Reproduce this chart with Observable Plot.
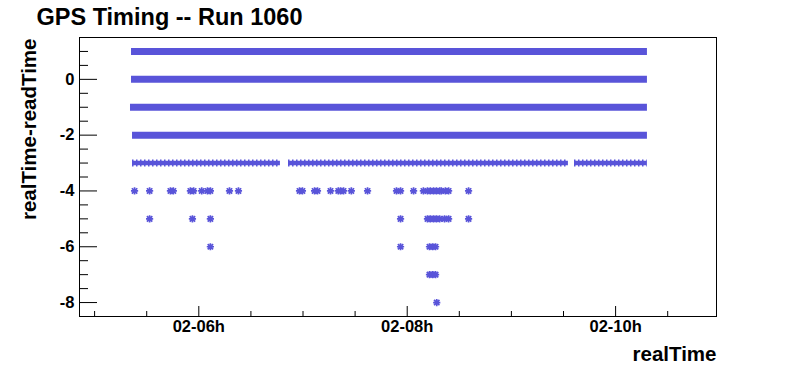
<!DOCTYPE html>
<html><head><meta charset="utf-8">
<script src="https://cdn.jsdelivr.net/npm/d3@7"></script>
<script src="https://cdn.jsdelivr.net/npm/@observablehq/plot@0.6"></script>
<style>html,body{margin:0;padding:0;background:#fff}</style>
</head><body><div id="chart"></div>
<script>
const DAY = "2000-01-02";
const COLOR = "#5954d9";

// x range of the frame
const xDomain = ["04:51:18", "10:58:06"];
const yDomain = [-8.5, 1.5];

// dense rows (continuous bands of markers)
const bandRows  = [1, 0, -1, -2];
const bandStart = ["05:21:15", "05:21:15", "05:20:40", "05:21:50"];
const bandEnd   = ["10:18:20", "10:18:20", "10:18:20", "10:18:20"];

// row -3: dense with gaps
const row3Start = ["05:21:50", "06:51:40", "09:36:20"];
const row3End   = ["06:47:00", "09:32:50", "10:18:10"];

// sparse rows
const row4 = ["05:23:00","05:31:40","05:43:40","05:45:20","05:55:10","05:57:00","06:01:40","06:05:00",
  "06:06:40","06:17:40","06:22:50","06:58:00","06:59:40","07:06:40","07:08:20","07:15:50","07:20:20",
  "07:21:40","07:23:20","07:27:50","07:37:10","07:53:50","07:56:10","08:03:40","08:09:20","08:11:40",
  "08:13:20","08:15:10","08:16:50","08:18:40","08:19:40","08:22:00","08:23:50","08:35:20"];
const row5 = ["05:31:40","05:56:20","06:06:40","07:56:10","08:11:40","08:13:20","08:15:10","08:16:50",
  "08:18:40","08:21:30","08:23:50","08:35:20"];
const row6 = ["06:06:40","07:56:10","08:12:50","08:14:40","08:16:20"];
const row7 = ["08:12:50","08:14:40","08:16:20"];
const row8 = ["08:17:00"];

// axis ticks
const xMajor = ["06:00:00", "08:00:00", "10:00:00"];
const xMinor = ["05:00:00","05:30:00","06:30:00","07:00:00","07:30:00","08:30:00","09:00:00","09:30:00","10:30:00"];
const yMajor = [0, -2, -4, -6, -8];
const yMinor = [1, 0.5, -0.5, -1, -1.5, -2.5, -3, -3.5, -4.5, -5, -5.5, -6.5, -7, -7.5];

const T = s => new Date(`${DAY}T${s}Z`);

const bands = bandRows.map((y, i) => ({y, x1: T(bandStart[i]), x2: T(bandEnd[i])}));
const row3 = row3Start.map((s, i) => ({y: -3, x1: T(s), x2: T(row3End[i])}));
const points = [
  ...row4.map(t => ({x: T(t), y: -4})),
  ...row5.map(t => ({x: T(t), y: -5})),
  ...row6.map(t => ({x: T(t), y: -6})),
  ...row7.map(t => ({x: T(t), y: -7})),
  ...row8.map(t => ({x: T(t), y: -8}))
];

// ROOT-like star marker: "+" and "x" combined
const star = {
  draw(ctx, size) {
    const r = Math.sqrt(size / Math.PI);
    const d = r * 0.75;
    ctx.moveTo(-r, 0); ctx.lineTo(r, 0);
    ctx.moveTo(0, -r); ctx.lineTo(0, r);
    ctx.moveTo(-d, -d); ctx.lineTo(d, d);
    ctx.moveTo(-d, d); ctx.lineTo(d, -d);
  }
};

const W = 796, H = 372, mT = 37, mR = 80, mB = 56, mL = 79;
const pw = W - mL - mR, ph = H - mT - mB;

const chart = Plot.plot({
  width: W, height: H,
  marginTop: mT, marginRight: mR, marginBottom: mB, marginLeft: mL,
  style: {fontFamily: "'Liberation Sans', Arial, Helvetica, sans-serif", fontWeight: "bold", color: "black", background: "white"},
  x: {type: "utc", domain: xDomain.map(T)},
  y: {domain: yDomain},
  marks: [
    Plot.ruleY(bands, {y: "y", x1: "x1", x2: "x2", stroke: COLOR, strokeWidth: 7}),
    Plot.ruleY(row3, {y: "y", x1: "x1", x2: "x2", stroke: COLOR, strokeWidth: 4.5}),
    Plot.ruleY(row3, {y: "y", x1: "x1", x2: "x2", stroke: COLOR, strokeWidth: 7, strokeDasharray: "1.5,2.5"}),
    Plot.dot(points, {x: "x", y: "y", symbol: star, r: 3.6, stroke: COLOR, strokeWidth: 1.7}),
    Plot.frame({stroke: "black", strokeWidth: 1}),
    Plot.tickX(xMajor, {x: d => T(d), insetTop: ph - 10, stroke: "black"}),
    Plot.tickX(xMinor, {x: d => T(d), insetTop: ph - 5, stroke: "black"}),
    Plot.tickY(yMajor, {y: d => d, insetRight: pw - 18, stroke: "black"}),
    Plot.tickY(yMinor, {y: d => d, insetRight: pw - 9, stroke: "black"}),
    Plot.axisX({ticks: xMajor.map(T), tickFormat: d3.utcFormat("%d-%Hh"), tickSize: 0, tickPadding: 4, fontSize: 16.5, fontWeight: "bold", label: null}),
    Plot.axisY({ticks: yMajor, tickFormat: d => String(d), tickSize: 0, tickPadding: 5, fontSize: 16.5, fontWeight: "bold", label: null}),
    Plot.text(["GPS Timing -- Run 1060"], {frameAnchor: "top-left", textAnchor: "start", lineAnchor: "bottom", dx: -43, dy: -13, fontSize: 23.5, fontWeight: "bold"}),
    Plot.text(["realTime-readTime"], {frameAnchor: "top-left", rotate: -90, textAnchor: "end", lineAnchor: "bottom", dx: -44, dy: 1, fontSize: 20.5, fontWeight: "bold"}),
    Plot.text(["realTime"], {frameAnchor: "bottom-right", textAnchor: "end", lineAnchor: "bottom", dx: 0, dy: 44, fontSize: 20.5, fontWeight: "bold"})
  ]
});
document.getElementById("chart").appendChild(chart);
</script>
</body></html>
